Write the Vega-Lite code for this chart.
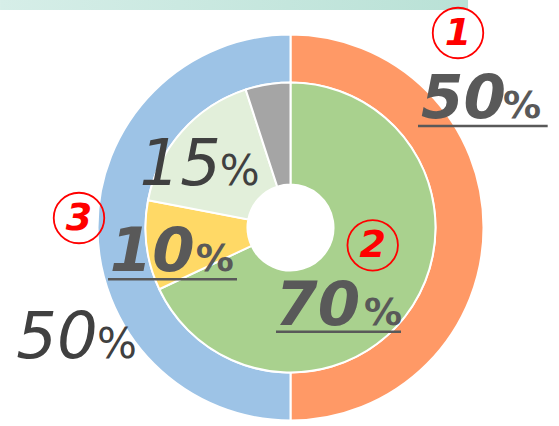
{
  "$schema": "https://vega.github.io/schema/vega-lite/v6.json",
  "width": 537,
  "height": 397,
  "padding": {"left": 22, "top": 29, "right": 0, "bottom": 0},
  "autosize": {"type": "none"},
  "background": "white",
  "config": {"view": {"stroke": null}},
  "layer": [
    {
      "data": {"values": [{"x1": -150.5, "x2": 92.0, "y1": 117.9, "y2": 112.7}]},
      "mark": {"type": "rect", "fill": {"gradient": "linear", "x1": 0, "y1": 0, "x2": 1, "y2": 0, "stops": [{"offset": 0, "color": "#d6eee8"}, {"offset": 1, "color": "#b9e1d6"}]}},
      "encoding": {
        "x": {"field": "x1", "type": "quantitative", "scale": {"domain": [-139.12, 139.12], "nice": false, "zero": false}, "axis": null},
        "x2": {"field": "x2"},
        "y": {"field": "y1", "type": "quantitative", "scale": {"domain": [-102.85, 102.85], "nice": false, "zero": false}, "axis": null},
        "y2": {"field": "y2"}
      }
    },
    {
      "data": {"values": [
        {"part": "Outer A", "value": 50, "ord": 1},
        {"part": "Outer B", "value": 50, "ord": 2}
      ]},
      "mark": {"type": "arc", "outerRadius": 193, "innerRadius": 145, "stroke": "white", "strokeWidth": 2},
      "encoding": {
        "theta": {"field": "value", "type": "quantitative", "stack": true, "scale": {"domain": [0, 100]}},
        "order": {"field": "ord"},
        "color": {"field": "part", "type": "nominal", "legend": null,
          "scale": {"domain": ["Outer A", "Outer B", "Green", "Yellow", "Light green", "Gray"],
                    "range": ["#FF9966", "#9DC3E6", "#A9D18E", "#FFD966", "#E2EFDA", "#A5A5A5"]}}
      }
    },
    {
      "data": {"values": [
        {"part": "Green", "value": 68, "ord": 1},
        {"part": "Yellow", "value": 10, "ord": 2},
        {"part": "Light green", "value": 17, "ord": 3},
        {"part": "Gray", "value": 5, "ord": 4}
      ]},
      "mark": {"type": "arc", "outerRadius": 145, "innerRadius": 43, "stroke": "white", "strokeWidth": 2},
      "encoding": {
        "theta": {"field": "value", "type": "quantitative", "stack": true, "scale": {"domain": [0, 100]}},
        "order": {"field": "ord"},
        "color": {"field": "part", "type": "nominal", "legend": null}
      }
    },
    {
      "data": {"values": [
        {"x": 66.06, "x2": 133.26, "y": 52.59},
        {"x": -7.51, "x2": 57.25, "y": -53.99},
        {"x": -94.56, "x2": -27.72, "y": -26.84}
      ]},
      "mark": {"type": "rule", "color": "#595959", "strokeWidth": 2.5},
      "encoding": {
        "x": {"field": "x", "type": "quantitative", "scale": {"domain": [-139.12, 139.12], "nice": false, "zero": false}, "axis": null},
        "x2": {"field": "x2"},
        "y": {"field": "y", "type": "quantitative", "scale": {"domain": [-102.85, 102.85], "nice": false, "zero": false}, "axis": null}
      }
    },
    {
      "data": {"values": [
        {"label": "50", "x": 111.6, "y": 56.74},
        {"label": "70", "x": 36.1, "y": -50.52},
        {"label": "10", "x": -49.7, "y": -22.38}
      ]},
      "mark": {"type": "text", "font": "DejaVu Sans", "fontSize": 61, "fontWeight": "bold", "fontStyle": "italic", "color": "#595959", "align": "right", "baseline": "alphabetic"},
      "encoding": {
        "x": {"field": "x", "type": "quantitative", "scale": {"domain": [-139.12, 139.12], "nice": false, "zero": false}, "axis": null},
        "y": {"field": "y", "type": "quantitative", "scale": {"domain": [-102.85, 102.85], "nice": false, "zero": false}, "axis": null},
        "text": {"field": "label"}
      }
    },
    {
      "data": {"values": [
        {"label": "%", "x": 110.1, "y": 56.74},
        {"label": "%", "x": 38.1, "y": -50.52},
        {"label": "%", "x": -49.1, "y": -22.38}
      ]},
      "mark": {"type": "text", "font": "DejaVu Sans", "fontSize": 38, "fontWeight": "bold", "color": "#595959", "align": "left", "baseline": "alphabetic"},
      "encoding": {
        "x": {"field": "x", "type": "quantitative", "scale": {"domain": [-139.12, 139.12], "nice": false, "zero": false}, "axis": null},
        "y": {"field": "y", "type": "quantitative", "scale": {"domain": [-102.85, 102.85], "nice": false, "zero": false}, "axis": null},
        "text": {"field": "label"}
      }
    },
    {
      "data": {"values": [
        {"label": "15", "x": -36.0, "y": 22.02},
        {"label": "50", "x": -99.9, "y": -67.77}
      ]},
      "mark": {"type": "text", "font": "DejaVu Sans", "fontSize": 64, "fontStyle": "italic", "color": "#404040", "align": "right", "baseline": "alphabetic"},
      "encoding": {
        "x": {"field": "x", "type": "quantitative", "scale": {"domain": [-139.12, 139.12], "nice": false, "zero": false}, "axis": null},
        "y": {"field": "y", "type": "quantitative", "scale": {"domain": [-102.85, 102.85], "nice": false, "zero": false}, "axis": null},
        "text": {"field": "label"}
      }
    },
    {
      "data": {"values": [
        {"label": "%", "x": -36.68, "y": 22.02},
        {"label": "%", "x": -100.26, "y": -67.77}
      ]},
      "mark": {"type": "text", "font": "DejaVu Sans", "fontSize": 42, "color": "#404040", "align": "left", "baseline": "alphabetic"},
      "encoding": {
        "x": {"field": "x", "type": "quantitative", "scale": {"domain": [-139.12, 139.12], "nice": false, "zero": false}, "axis": null},
        "y": {"field": "y", "type": "quantitative", "scale": {"domain": [-102.85, 102.85], "nice": false, "zero": false}, "axis": null},
        "text": {"field": "label"}
      }
    },
    {
      "data": {"values": [
        {"num": "1", "x": 86.79, "y": 100.78},
        {"num": "2", "x": 42.59, "y": -9.22},
        {"num": "3", "x": -109.59, "y": 4.92}
      ]},
      "layer": [
        {
          "mark": {"type": "point", "shape": "circle", "size": 2550, "filled": false, "stroke": "#FF0000", "strokeWidth": 1.8, "opacity": 1},
          "encoding": {
            "x": {"field": "x", "type": "quantitative", "scale": {"domain": [-139.12, 139.12], "nice": false, "zero": false}, "axis": null},
            "y": {"field": "y", "type": "quantitative", "scale": {"domain": [-102.85, 102.85], "nice": false, "zero": false}, "axis": null}
          }
        },
        {
          "mark": {"type": "text", "font": "DejaVu Sans", "fontSize": 38, "fontWeight": "bold", "fontStyle": "italic", "color": "#FF0000", "align": "center", "baseline": "middle", "dy": 1},
          "encoding": {
            "x": {"field": "x", "type": "quantitative", "scale": {"domain": [-139.12, 139.12], "nice": false, "zero": false}, "axis": null},
            "y": {"field": "y", "type": "quantitative", "scale": {"domain": [-102.85, 102.85], "nice": false, "zero": false}, "axis": null},
            "text": {"field": "num"}
          }
        }
      ]
    }
  ]
}
